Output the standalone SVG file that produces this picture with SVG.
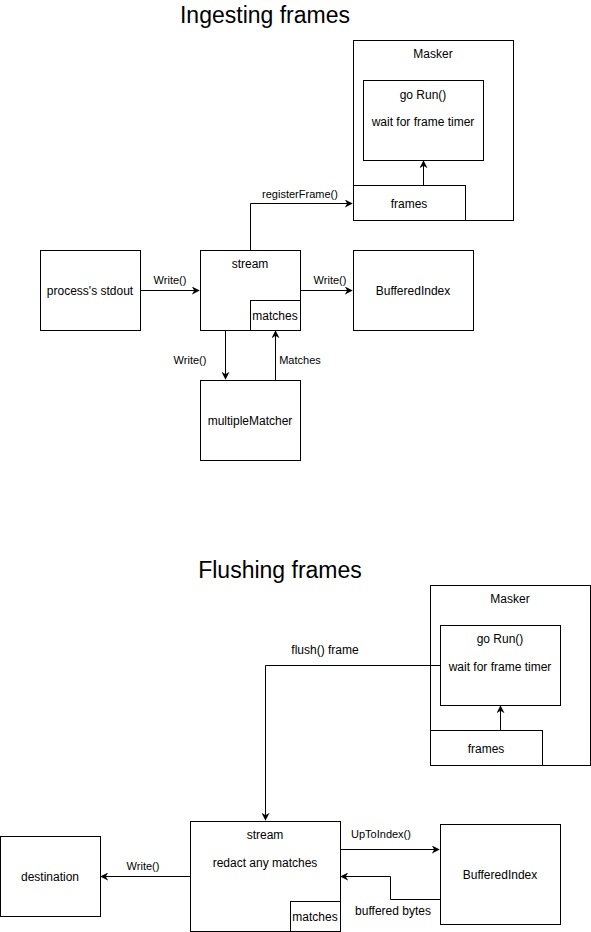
<svg xmlns="http://www.w3.org/2000/svg" width="591" height="932" viewBox="0 0 591 932">
<defs>
<marker id="arr" viewBox="0 0 10 10" refX="9" refY="5" markerWidth="8" markerHeight="8" markerUnits="userSpaceOnUse" orient="auto">
<path d="M0,0 L10,5 L0,10 L3,5 Z" fill="#000"/>
</marker>
<style>
rect{fill:#fff;stroke:#000;stroke-width:1}
text{font-family:"Liberation Sans",Arial,sans-serif;font-size:12px;fill:#000;text-anchor:middle}
.e{font-size:11px}
.t{font-size:23px}
.c path{fill:none;stroke:#000;stroke-width:1;marker-end:url(#arr)}
</style>
</defs>
<rect x="0" y="0" width="591" height="932" style="stroke:none"/>
<text class="t" x="265" y="23">Ingesting frames</text>
<text class="t" x="280" y="578">Flushing frames</text>

<g id="masker1"><rect x="353.5" y="40.5" width="160" height="180"/><text x="433" y="58">Masker</text></g>
<g id="run1"><rect x="363.5" y="80.5" width="120" height="80"/><text x="423" y="99">go Run()</text><text x="423" y="126">wait for frame timer</text></g>
<g id="frames1"><rect x="353.5" y="185.5" width="112" height="35"/><text x="409" y="208">frames</text></g>
<g id="stdout"><rect x="40.5" y="250.5" width="100" height="80"/><text x="90" y="295">process's stdout</text></g>
<g id="stream1"><rect x="200.5" y="250.5" width="100" height="80"/><text x="250" y="268">stream</text></g>
<g id="matches1"><rect x="250.5" y="300.5" width="50" height="30"/><text x="275" y="320">matches</text></g>
<g id="bi1"><rect x="353.5" y="250.5" width="120" height="80"/><text x="413" y="295">BufferedIndex</text></g>
<g id="mm"><rect x="200.5" y="380.5" width="100" height="80"/><text x="250" y="425">multipleMatcher</text></g>

<g id="masker2"><rect x="430.5" y="585.5" width="160" height="180"/><text x="510" y="603">Masker</text></g>
<g id="run2"><rect x="440.5" y="625.5" width="120" height="80"/><text x="500" y="643">go Run()</text><text x="500" y="671">wait for frame timer</text></g>
<g id="frames2"><rect x="430.5" y="730.5" width="112" height="35"/><text x="486" y="753">frames</text></g>
<g id="stream2"><rect x="190.5" y="821.5" width="150" height="110"/><text x="265" y="839">stream</text><text x="265" y="867">redact any matches</text></g>
<g id="matches2"><rect x="290.5" y="901.5" width="50" height="30"/><text x="315" y="921">matches</text></g>
<g id="dest"><rect x="0.5" y="836.5" width="100" height="80"/><text x="50" y="881">destination</text></g>
<g id="bi2"><rect x="440.5" y="824.5" width="120" height="100"/><text x="500" y="879">BufferedIndex</text></g>

<g class="c" id="connectors">
<path d="M423.5,185 V161"/>
<path d="M140,290.5 H199"/>
<path d="M300,290.5 H352"/>
<path d="M250.5,250 V203.5 H352"/>
<path d="M225.5,330 V379"/>
<path d="M275.5,380 V331"/>
<path d="M500.5,730 V706"/>
<path d="M440,665.5 H265.5 V820"/>
<path d="M190,876.5 H101"/>
<path d="M340,849.5 H439"/>
<path d="M440,899.5 H390.5 V876.5 H341"/>
</g>
<g id="labels">
<text class="e" x="170" y="284">Write()</text>
<text class="e" x="330" y="284">Write()</text>
<text class="e" x="300" y="198">registerFrame()</text>
<text class="e" x="190" y="364">Write()</text>
<text class="e" x="300" y="364">Matches</text>
<text x="325" y="654">flush() frame</text>
<text class="e" x="143" y="870">Write()</text>
<text class="e" x="381" y="838">UpToIndex()</text>
<text x="393" y="915">buffered bytes</text>
</g>
</svg>
